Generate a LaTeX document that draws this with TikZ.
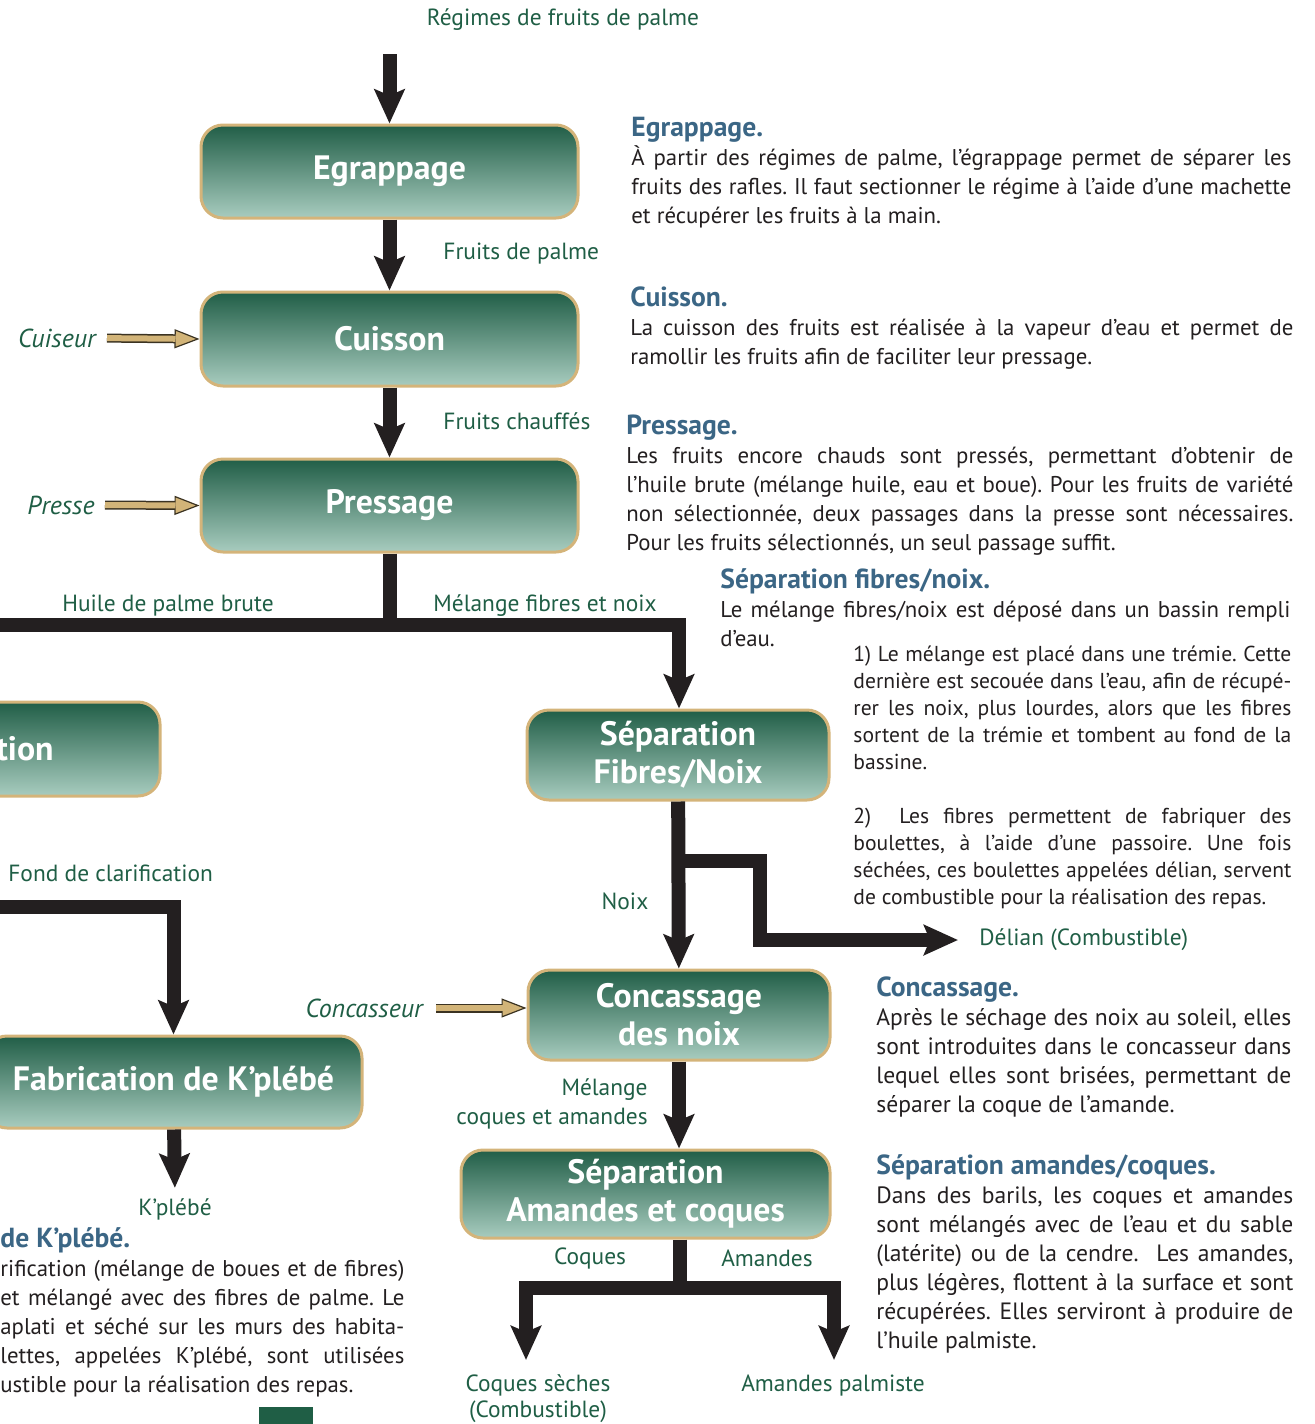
\documentclass[tikz,border=0pt]{standalone}
\usepackage{fontspec}
\setmainfont{PT Sans}
\usepackage{xcolor}
\usetikzlibrary{arrows.meta}

\definecolor{boxtop}{HTML}{215E47}
\definecolor{boxbot}{HTML}{A8CCBF}
\definecolor{boxedge}{HTML}{D4B47A}
\definecolor{lblgreen}{HTML}{1F5E45}
\definecolor{headblue}{HTML}{3B6685}
\definecolor{bodytext}{HTML}{231F20}
\definecolor{tanfill}{HTML}{D2B478}
\definecolor{tanedge}{HTML}{3B3322}

\newcommand{\blocktitle}[1]{{\fontsize{13.8}{14.6}\selectfont\bfseries\color{headblue}#1}}
\frenchspacing
\hyphenpenalty=10000
\tolerance=10000
\hbadness=10000

\begin{document}
\begin{tikzpicture}[x=0.5pt, y=-0.5pt,
    boxtext/.style={text=white, font=\fontsize{16.9}{19}\selectfont\bfseries, align=center, inner sep=0pt},
    box/.style={boxtext, rectangle, draw=boxedge, line width=1.5pt, rounded corners=11pt, top color=boxtop, bottom color=boxbot},
    lbl/.style={text=lblgreen, font=\fontsize{11.7}{14.5}\selectfont, inner sep=0pt},
    tool/.style={text=lblgreen, font=\fontsize{13}{14.5}\selectfont\itshape, inner sep=0pt},
    desc/.style={text=bodytext, font=\fontsize{11.4}{14.5}\selectfont, align=justify, inner sep=0pt, anchor=base west},
    wide/.style={desc, font=\fontsize{11.8}{14.5}\selectfont},
    small/.style={desc, font=\fontsize{10.8}{13.5}\selectfont},
    flow/.style={line width=7pt, draw=bodytext},
    feed/.style={line width=4.5pt, draw=tanedge, -{Triangle[length=12.5pt, width=9.5pt, line width=0.6pt, fill=tanfill]}, postaction={draw=tanfill, line width=3pt, shorten >=12pt, -}},
    >={Stealth[length=17pt, width=15pt, inset=3pt]}
]
\useasboundingbox (0,0) rectangle (1314,1424);
\clip (0,0) rectangle (1314,1424);

\node[box, minimum width=188.5pt, minimum height=46.5pt] (egrap) at (389.5,171.5) {Egrappage};
\node[box, minimum width=188.5pt, minimum height=47pt] (cuis) at (389.5,339) {Cuisson};
\node[box, minimum width=188.5pt, minimum height=46.5pt] (press) at (389.5,505.5) {Pressage};
\node[box, minimum width=200pt, minimum height=47pt] (clar) at (-40,749) {};
\node[boxtext, anchor=east] (clartxt) at (54,749) {tion};
\node[box, minimum width=151pt, minimum height=45pt] (sepfn) at (678,755) {Séparation\\Fibres/Noix};
\node[box, minimum width=151pt, minimum height=45pt] (conc) at (679,1015) {Concassage\\des noix};
\node[box, minimum width=188.5pt, minimum height=46pt] (fab) at (173.5,1082) {Fabrication de K’plébé};
\node[box, minimum width=184.5pt, minimum height=44pt] (sepac) at (645.5,1194) {Séparation\\Amandes et coques};

\node[lbl] (regimes) at (563,20) {Régimes de fruits de palme};
\node[lbl, anchor=west] (fdp) at (443,254) {Fruits de palme};
\node[lbl, anchor=west] (fch) at (443,421) {Fruits chauffés};
\node[lbl] (huile) at (168,606) {Huile de palme brute};
\node[lbl] (mfn) at (545,606) {Mélange fibres et noix};
\node[lbl, anchor=west] (fond) at (8,873) {Fond de clarification};
\node[lbl] (noix) at (625,901) {Noix};
\node[lbl, anchor=west] (delian) at (979,940) {Délian (Combustible)};
\node[lbl, anchor=east, align=right] (mca) at (648,1103.5) {Mélange\\coques et amandes};
\node[lbl] (coq) at (590,1258) {Coques};
\node[lbl] (ama) at (767,1258) {Amandes};
\node[lbl, align=center, font=\fontsize{11.7}{13}\selectfont] (coqs) at (538,1399) {Coques sèches\\(Combustible)};
\node[lbl] (amp) at (833,1386) {Amandes palmiste};
\node[lbl] (kpl) at (175,1209) {K’plébé};

\node[tool, anchor=east] (cuiseur) at (96,338) {Cuiseur};
\node[tool, anchor=east] (presse) at (95,505) {Presse};
\node[tool, anchor=east] (concr) at (423,1008) {Concasseur};

% main line
\coordinate (top) at (389.5,54);
\coordinate (jpress) at (389.5,625);
\coordinate (jleft) at (-20,625);
\coordinate (jright) at (679,625);
\coordinate (jnoix) at (679,861);
\coordinate (jdelian) at (760,940);
\coordinate (jfond) at (-20,907);
\coordinate (jac) at (680,1288);
\coordinate (coqend) at (526,1360);
\coordinate (amend) at (834,1360);

\draw[flow, ->] (top) -- (egrap);
\draw[flow, ->] (egrap) -- (cuis);
\draw[flow, ->] (cuis) -- (press);
\draw[flow] (press) -- (jpress);
\draw[flow, ->] (jleft) -- (jright) -- (jright |- sepfn.north);
\draw[flow, ->] (sepfn) -- (conc);
\draw[flow, ->] (jnoix) -| (jdelian) -- (delian.west) [shorten >=10.5pt];
\draw[flow, ->] (conc) -- (conc.south |- sepac.north);
\draw[flow] (sepac.south -| jac) -- (jac);
\draw[flow, <->] (coqend) |- (jac) -| (amend);
\draw[flow, ->] (jfond) -| (fab.north);
\draw[flow, ->, shorten >=5pt] (fab) -- (kpl.north);

\draw[feed, shorten <=5.5pt] (cuiseur.east) -- (cuis.west);
\draw[feed, shorten <=5pt] (presse.east) -- (press.west);
\draw[feed, shorten <=6.5pt] (concr.east) -- (concr.east -| conc.west);

% descriptions
\node[desc, text width=330pt] (tegrap) at (631,136) {\blocktitle{Egrappage.}\\ À partir des régimes de palme, l’égrappage permet de séparer les\linebreak fruits des rafles. Il faut sectionner le régime à l’aide d’une machette\linebreak et récupérer les fruits à la main.};
\node[desc, text width=331.5pt] (tcuis) at (630,306) {\blocktitle{Cuisson.}\\ La cuisson des fruits est réalisée à la vapeur d’eau et permet de\linebreak ramollir les fruits afin de faciliter leur pressage.};
\node[desc, text width=333.5pt] (tpress) at (626,434) {\blocktitle{Pressage.}\\ Les fruits encore chauds sont pressés, permettant d’obtenir de\linebreak l’huile brute (mélange huile, eau et boue). Pour les fruits de variété\linebreak non sélectionnée, deux passages dans la presse sont nécessaires.\linebreak Pour les fruits sélectionnés, un seul passage suffit.};
\node[desc, text width=285pt] (tsepfn) at (720,588) {\blocktitle{Séparation fibres/noix.}\\ Le mélange fibres/noix est déposé dans un bassin rempli\linebreak d’eau.};
\node[small, text width=219pt] (tstep1) at (853,661) {1) Le mélange est placé dans une trémie. Cette\linebreak dernière est secouée dans l’eau, afin de récupé-\linebreak rer les noix, plus lourdes, alors que les fibres\linebreak sortent de la trémie et tombent au fond de la\linebreak bassine.};
\node[small, text width=219pt] (tstep2) at (853,823) {2)\ \ Les fibres permettent de fabriquer des\linebreak boulettes, à l’aide d’une passoire. Une fois\linebreak séchées, ces boulettes appelées délian, servent\linebreak de combustible pour la réalisation des repas.};
\node[wide, text width=207.5pt] (tconc) at (876,996) {\blocktitle{Concassage.}\\ Après le séchage des noix au soleil, elles\linebreak sont introduites dans le concasseur dans\linebreak lequel elles sont brisées, permettant de\linebreak séparer la coque de l’amande.};
\node[wide, text width=208.5pt] (tsepac) at (876,1174) {\blocktitle{Séparation amandes/coques.}\\ Dans des barils, les coques et amandes\linebreak sont mélangés avec de l’eau et du sable\linebreak (latérite) ou de la cendre.\ \ Les amandes,\linebreak plus légères, flottent à la surface et sont\linebreak récupérées. Elles serviront à produire de\linebreak l’huile palmiste.};
\node[desc, text width=202pt] (tfab) at (0,1247) {\blocktitle{de K’plébé.}\\ rification (mélange de boues et de fibres)\linebreak et mélangé avec des fibres de palme. Le\linebreak aplati et séché sur les murs des habita-\linebreak lettes, appelées K’plébé, sont utilisées\linebreak ustible pour la réalisation des repas.};

\fill[lblgreen] (259,1407) rectangle (313,1424);
\end{tikzpicture}
\end{document}
